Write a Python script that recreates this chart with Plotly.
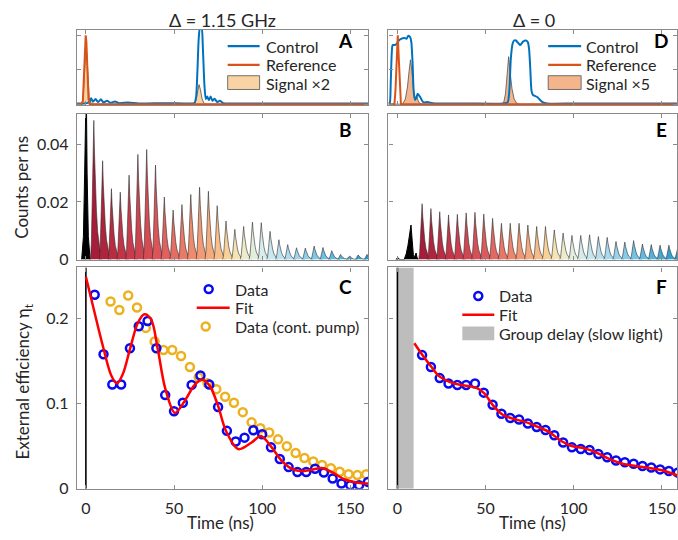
import numpy as np
import plotly.graph_objects as go

W, H = 678, 540

# ---------------- Panel A (Δ = 1.15 GHz): input / output pulses, a.u. ----------------
A_CTRL_T = [-5, -1, 0.5, 2, 3, 4, 5.5, 7, 8.5, 10,
            12, 14, 16.5, 19, 24, 30, 45, 58, 61.5, 62.5,
            63.3, 64.0, 64.8, 65.6, 66.4, 67.2, 68.0, 68.8, 69.8, 70.8,
            71.8, 73.0, 74.5, 76.0, 78.0, 82, 95, 120, 161]
A_CTRL_V = [0.02, 0.02, 0.03, 0.06, 0.17, 0.07, 0.15, 0.06, 0.14, 0.05,
            0.10, 0.04, 0.08, 0.03, 0.05, 0.02, 0.03, 0.02, 0.03, 0.2,
            1.0, 1.9, 2.25, 2.25, 1.6, 0.6, 0.15, 0.22, 0.12, 0.22,
            0.1, 0.16, 0.06, 0.1, 0.03, 0.02, 0.02, 0.02, 0.02]
A_REF_T = [-5, -2.4, -1.7, -1.1, -0.5, -0.1, 0.3, 0.9, 1.5, 2.2, 161]
A_REF_V = [0, 0, 0.1, 0.8, 1.75, 2.0, 1.8, 0.9, 0.15, 0, 0]
A_SIG_T = [-5, -2.4, -1.6, -1.0, -0.4, 0.1, 0.6, 1.2, 1.9, 2.8, 4,
           60, 61.5, 62.5, 63.4, 64.2, 65.0, 65.8, 66.8, 68, 161]
A_SIG_V = [0, 0, 0.15, 0.8, 1.5, 1.7, 1.4, 0.7, 0.2, 0.04, 0,
           0, 0.02, 0.12, 0.4, 0.57, 0.42, 0.18, 0.04, 0, 0]

# ---------------- Panel D (Δ = 0) ----------------
D_CTRL_T = [-5, -4.3, -3.8, -3.2, -2.7, -1.5, -0.5, 0.8, 2.1, 4,
            5.2, 6.2, 7.2, 7.9, 8.6, 9.2, 10, 10.8, 11.5, 12.3,
            13, 14, 15, 17, 20, 25, 40, 60, 62.5, 63.5,
            64.3, 65.3, 66.2, 67.2, 68.5, 69.7, 71.3, 72.9, 74, 74.7,
            75.4, 76.1, 77, 77.6, 79.5, 81, 82.3, 85, 100, 161]
D_CTRL_V = [0.02, 0.05, 0.6, 1.5, 1.72, 1.72, 1.75, 1.85, 1.9, 1.92,
            1.9, 1.99, 1.95, 1.8, 1.2, 0.4, 0.12, 0.2, 0.3, 0.25,
            0.2, 0.1, 0.05, 0.06, 0.03, 0.02, 0.02, 0.02, 0.05, 0.4,
            1.3, 1.75, 1.85, 1.85, 1.78, 1.72, 1.82, 1.85, 1.8, 1.6,
            1.0, 0.38, 0.26, 0.25, 0.2, 0.12, 0.06, 0.02, 0.02, 0.02]
D_REF_T = [-5, -1.7, -1.1, -0.5, 0.2, 0.8, 1.4, 2.0, 161]
D_REF_V = [0, 0, 0.4, 1.4, 2.0, 1.3, 0.4, 0, 0]
D_SIG_T = [-5, 3, 4.5, 5.7, 6.6, 7.4, 8.2, 9.0, 9.7, 10.3, 10.9, 11.6, 12.5, 14,
           59, 60.3, 61.3, 62.3, 63.1, 64, 65, 66.2, 67.5, 69, 161]
D_SIG_V = [0, 0, 0.15, 0.5, 0.95, 1.29, 0.95, 0.45, 0.15, 0.12, 0.25, 0.12, 0.03, 0,
           0, 0.05, 0.3, 0.9, 1.38, 0.9, 0.45, 0.15, 0.04, 0, 0]

# ---------------- Panel B: retrieved pulses (counts per ns) ----------------
B_BLACK_T = [-2.4, -1.4, -0.7, -0.2, 0.2, 0.7, 1.4, 2.4]
B_BLACK_V = [0, 0.008, 0.03, 0.062, 0.062, 0.03, 0.008, 0]
B_PEAK_T = [4.5, 9.5, 14.5, 19.5, 24.5, 29.5, 34.5, 39.5, 44.5, 49.5,
            54.5, 59.5, 64.5, 69.5, 74.5, 79.5, 84.5, 89.5, 94.5, 99.5,
            104.5, 109.5, 114.5, 119.5, 124.5, 129.5, 134.5, 139.5, 144.5, 149.5,
            154.5, 159.5]
B_PEAK_V = [0.0483, 0.0343, 0.0246, 0.0234, 0.0293, 0.0365, 0.0382, 0.0328, 0.0217, 0.0172,
            0.0191, 0.0226, 0.0251, 0.0237, 0.0187, 0.0134, 0.0105, 0.0115, 0.0130, 0.0128,
            0.0098, 0.0069, 0.0052, 0.0041, 0.0040, 0.0047, 0.0042, 0.0031, 0.0018, 0.0012,
            0.0016, 0.0018]

# ---------------- Panel E ----------------
E_BLACK_T = [-1.0, -0.3, 0.2, 0.7, 1.4, 3.8, 5.0, 6.0, 6.9, 7.7, 8.4, 9.1, 9.6, 10.1, 10.6, 11.1, 11.7]
E_BLACK_V = [0, 0.0004, 0.0006, 0.0004, 0, 0, 0.002, 0.005, 0.009, 0.012, 0.0065, 0.0012, 0.0008, 0.0015, 0.0023, 0.0008, 0]
E_PEAK_T = [14, 19, 24, 29, 34, 39, 44, 49, 54, 59,
            64, 69, 74, 79, 84, 89, 94, 99, 104, 109,
            114, 119, 124, 129, 134, 139, 144, 149, 154, 159]
E_PEAK_V = [0.0194, 0.0177, 0.0166, 0.0155, 0.0157, 0.0162, 0.0164, 0.0158, 0.0143, 0.0126,
            0.0126, 0.0126, 0.0120, 0.0115, 0.0115, 0.0103, 0.0092, 0.0084, 0.0084, 0.0086,
            0.0080, 0.0077, 0.0063, 0.0061, 0.0066, 0.0054, 0.0052, 0.0050, 0.0050, 0.0040]

# normalised shape of one retrieved pulse (offset in ns, relative height)
PULSE_DT = [-1.9, -1.4, -0.9, -0.45, 0.0, 0.4, 0.9, 1.5, 2.2, 3.0, 3.8, 4.6]
PULSE_V = [0.0, 0.12, 0.42, 0.78, 1.0, 0.76, 0.53, 0.35, 0.2, 0.1, 0.04, 0.0]

# ---------------- Panel C: efficiency, Δ = 1.15 GHz ----------------
C_DATA_T = [5, 10, 15, 20, 25, 30, 35, 40, 45, 50,
            55, 60, 65, 70, 75, 80, 85, 90, 95, 100,
            105, 110, 115, 120, 125, 130, 135, 140, 145, 150,
            155, 160]
C_DATA_V = [0.228, 0.158, 0.1225, 0.1225, 0.165, 0.191, 0.197, 0.165, 0.110, 0.091,
            0.101, 0.122, 0.133, 0.1225, 0.096, 0.068, 0.0555, 0.060, 0.0686, 0.064,
            0.0486, 0.035, 0.0254, 0.0197, 0.0197, 0.0235, 0.019, 0.0119, 0.0061, 0.0042,
            0.0042, 0.008]
C_CONT_T = [14, 19, 24, 29, 34, 39, 44, 49, 54, 59,
            64, 69, 74, 79, 84, 89, 94, 99, 104, 109,
            114, 119, 124, 129, 134, 139, 144, 149, 154, 159]
C_CONT_V = [0.220, 0.210, 0.227, 0.213, 0.189, 0.173, 0.163, 0.163, 0.156, 0.143,
            0.131, 0.124, 0.117, 0.108, 0.101, 0.090, 0.078, 0.071, 0.066, 0.058,
            0.050, 0.042, 0.036, 0.032, 0.028, 0.024, 0.020, 0.017, 0.016, 0.017]
C_FIT_T = [0, 4, 9.6, 14.4, 17.6, 21, 25, 29.5, 33.2, 37,
           40.8, 45, 50.5, 55.9, 61.6, 65.7, 70, 74.8, 79.5, 86.5,
           94, 99.3, 105.4, 111, 116.7, 121.4, 128, 133.7, 139.4, 146.9,
           154.5, 160.5]
C_FIT_V = [0.249, 0.215, 0.168, 0.133, 0.1237, 0.135, 0.164, 0.195, 0.205, 0.199,
           0.164, 0.118, 0.089, 0.1025, 0.1217, 0.128, 0.1217, 0.0986, 0.0678, 0.0466,
           0.0543, 0.062, 0.0486, 0.033, 0.0235, 0.0208, 0.0223, 0.0243, 0.0197, 0.0108,
           0.007, 0.006]

# ---------------- Panel F: efficiency, Δ = 0 ----------------
F_DATA_T = [14, 19, 24, 29, 34, 39, 44, 49, 54, 59,
            64, 69, 74, 79, 84, 89, 94, 99, 104, 109,
            114, 119, 124, 129, 134, 139, 144, 149, 154, 159]
F_DATA_V = [0.157, 0.143, 0.130, 0.1237, 0.1218, 0.1218, 0.1237, 0.1129, 0.0986, 0.0882,
            0.0832, 0.0813, 0.0767, 0.0725, 0.069, 0.0628, 0.0543, 0.0486, 0.0466, 0.0455,
            0.0408, 0.037, 0.0331, 0.0312, 0.0293, 0.0266, 0.025, 0.0227, 0.0208, 0.0189]
F_FIT_T = [9.6, 14.4, 19.1, 23.8, 29.5, 36.1, 41, 44.6, 49.3, 54,
           59.7, 65.3, 72.9, 78.6, 86.1, 92.7, 98.4, 106, 112.6, 120.1,
           127.7, 135.2, 142.8, 150.3, 158.6, 160]
F_FIT_V = [0.171, 0.1565, 0.1437, 0.132, 0.1256, 0.1218, 0.1205, 0.1187, 0.1121, 0.0986,
           0.087, 0.0824, 0.0782, 0.0736, 0.0667, 0.0563, 0.0505, 0.0474, 0.0428, 0.035,
           0.0293, 0.0266, 0.0243, 0.0216, 0.0158, 0.015]
PUMP_T0 = 0.0          # black line: start of retrieval
GROUP_DELAY = 9.2      # ns, slow-light group delay (grey band in F)

for a, b in [(A_CTRL_T, A_CTRL_V), (A_REF_T, A_REF_V), (A_SIG_T, A_SIG_V),
             (D_CTRL_T, D_CTRL_V), (D_REF_T, D_REF_V), (D_SIG_T, D_SIG_V),
             (B_BLACK_T, B_BLACK_V), (B_PEAK_T, B_PEAK_V), (E_BLACK_T, E_BLACK_V),
             (E_PEAK_T, E_PEAK_V), (PULSE_DT, PULSE_V), (C_DATA_T, C_DATA_V),
             (C_CONT_T, C_CONT_V), (C_FIT_T, C_FIT_V), (F_DATA_T, F_DATA_V), (F_FIT_T, F_FIT_V)]:
    assert len(a) == len(b)

# ---------------- styles ----------------
C_CTRL = '#0072BD'
C_REF = '#D95319'
C_SIG_A = '#F9D3A3'
C_SIG_D = '#F4B58D'
C_BLUE = '#0a0af0'
C_ORANGE = '#EDB120'
C_RED = '#ff0000'
AX_COL = '#8a8a8a'
TXT = '#262626'
FONT = 'Lato'

CMAP_STOPS = [0.0, 0.1, 0.22, 0.33, 0.42, 0.48, 0.53, 0.6, 0.7, 0.82, 1.0]
CMAP_COLORS = ['#a51d38', '#c23448', '#da5258', '#eb7d69', '#f5ab7c', '#f8cf96',
               '#f4eabd', '#dcefe8', '#b3def0', '#76c5e6', '#1f9ad0']


def cmap(f):
    rgb = [[int(c[i:i + 2], 16) for i in (1, 3, 5)] for c in CMAP_COLORS]
    v = [np.interp(f, CMAP_STOPS, [c[k] for c in rgb]) for k in range(3)]
    return 'rgb(%d,%d,%d)' % tuple(int(round(x)) for x in v)


# layout geometry (pixels in the 678x540 window)
LEFT = (77, 369)
RIGHT = (389, 678)
ROW_A = (30, 107)
ROW_B = (116, 264)
ROW_C = (272, 497)


def px(p):
    return p / W


def py(p):
    return 1 - p / H


def xd(p):
    return [px(p[0]), min(1.0, px(p[1]))]


def yd(p):
    return [py(p[1]), py(p[0])]


fig = go.Figure()


def add(tr, ax):
    tr.update(xaxis='x' + ax, yaxis='y' + ax, hoverinfo='skip')
    fig.add_trace(tr)


# ---- A ----
add(go.Scatter(x=A_SIG_T, y=A_SIG_V, mode='lines', fill='tozeroy', fillcolor=C_SIG_A,
               line=dict(color='#505050', width=0.8)), '')
add(go.Scatter(x=A_CTRL_T, y=A_CTRL_V, mode='lines', line=dict(color=C_CTRL, width=2, shape='spline', smoothing=0.6)), '')
add(go.Scatter(x=A_REF_T, y=A_REF_V, mode='lines', line=dict(color=C_REF, width=2)), '')
# ---- D ----
add(go.Scatter(x=D_SIG_T, y=D_SIG_V, mode='lines', fill='tozeroy', fillcolor=C_SIG_D,
               line=dict(color='#505050', width=0.8)), '4')
add(go.Scatter(x=D_CTRL_T, y=D_CTRL_V, mode='lines', line=dict(color=C_CTRL, width=2, shape='spline', smoothing=0.6)), '4')
add(go.Scatter(x=D_REF_T, y=D_REF_V, mode='lines', line=dict(color=C_REF, width=2)), '4')


# ---- B / E pulses ----
def pulses(black_t, black_v, peak_t, peak_v, ax):
    add(go.Scatter(x=black_t, y=black_v, mode='lines', fill='tozeroy', fillcolor='#000000',
                   line=dict(color='#000000', width=1)), ax)
    n = len(peak_t)
    for i, (t0, h) in enumerate(zip(peak_t, peak_v)):
        xs = [t0 + d for d in PULSE_DT]
        ys = [h * s for s in PULSE_V]
        add(go.Scatter(x=xs, y=ys, mode='lines', fill='tozeroy', fillcolor=cmap(i / (n - 1)),
                       line=dict(color='rgba(45,45,45,0.85)', width=0.7)), ax)


pulses(B_BLACK_T, B_BLACK_V, B_PEAK_T, B_PEAK_V, '2')
pulses(E_BLACK_T, E_BLACK_V, E_PEAK_T, E_PEAK_V, '5')

# ---- C ----
YMAX_C = 0.26
MK = dict(symbol='circle-open', size=8, line=dict(width=2.5))
add(go.Scatter(x=[PUMP_T0, PUMP_T0], y=[0, YMAX_C], mode='lines', line=dict(color='black', width=1.6)), '3')
add(go.Scatter(x=C_CONT_T, y=C_CONT_V, mode='markers', marker=dict(MK, color=C_ORANGE)), '3')
add(go.Scatter(x=C_DATA_T, y=C_DATA_V, mode='markers', marker=dict(MK, color=C_BLUE)), '3')
add(go.Scatter(x=C_FIT_T, y=C_FIT_V, mode='lines', line=dict(color=C_RED, width=2.5, shape='spline', smoothing=0.9)), '3')

# ---- F ----
add(go.Scatter(x=[PUMP_T0, GROUP_DELAY, GROUP_DELAY, PUMP_T0], y=[0, 0, YMAX_C, YMAX_C], mode='lines',
               fill='toself', fillcolor='#bdbdbd', line=dict(width=0)), '6')
add(go.Scatter(x=[PUMP_T0, PUMP_T0], y=[0, YMAX_C], mode='lines', line=dict(color='black', width=1.6)), '6')
add(go.Scatter(x=F_DATA_T, y=F_DATA_V, mode='markers', marker=dict(MK, color=C_BLUE)), '6')
add(go.Scatter(x=F_FIT_T, y=F_FIT_V, mode='lines', line=dict(color=C_RED, width=2.5, shape='spline', smoothing=0.9)), '6')

# ---------------- axes ----------------
base = dict(showline=True, linecolor=AX_COL, linewidth=1.2, mirror='ticks', ticks='inside',
            ticklen=4, tickwidth=1, tickcolor=AX_COL, showgrid=False, zeroline=False,
            tickfont=dict(size=16, color=TXT, family=FONT))
XT = [0, 50, 100, 150]


def xax(dom, rng, labels, anchor):
    d = dict(base, domain=xd(dom), range=rng, tickmode='array', tickvals=XT,
             showticklabels=labels, anchor=anchor)
    if labels:
        d['ticktext'] = [str(v) for v in XT]
        d['ticklabelstandoff'] = 5
    return d


def yax(dom, rng, vals, texts, anchor):
    d = dict(base, domain=yd(dom), range=rng, tickmode='array', tickvals=vals,
             showticklabels=bool(texts), anchor=anchor)
    if texts:
        d['ticktext'] = texts
        d['ticklabelstandoff'] = 4
    return d


XL = [-5.1, 160.3]
XR = [-5.1, 158.6]
YA = [-0.03, 2.17]
YB = [0, 0.0505]
YC = [0, YMAX_C]
lay = dict(
    xaxis=xax(LEFT, XL, False, 'y'), yaxis=yax(ROW_A, YA, [0, 1, 2], None, 'x'),
    xaxis2=xax(LEFT, XL, False, 'y2'), yaxis2=yax(ROW_B, YB, [0, 0.02, 0.04], ['0', '0.02', '0.04'], 'x2'),
    xaxis3=xax(LEFT, XL, True, 'y3'), yaxis3=yax(ROW_C, YC, [0, 0.1, 0.2], ['0', '0.1', '0.2'], 'x3'),
    xaxis4=xax(RIGHT, XR, False, 'y4'), yaxis4=yax(ROW_A, YA, [0, 1, 2], None, 'x4'),
    xaxis5=xax(RIGHT, XR, False, 'y5'), yaxis5=yax(ROW_B, YB, [0, 0.02, 0.04], None, 'x5'),
    xaxis6=xax(RIGHT, XR, True, 'y6'), yaxis6=yax(ROW_C, YC, [0, 0.1, 0.2], None, 'x6'),
)

# ---------------- text & legends ----------------
ann = []
shapes = []


def text(x, y, s, size=16, bold=False, angle=0, xanchor='center'):
    ann.append(dict(xref='paper', yref='paper', x=px(x), y=py(y), text=('<b>%s</b>' % s) if bold else s,
                    showarrow=False, xanchor=xanchor, yanchor='middle', textangle=angle,
                    font=dict(size=size, color='#000000' if bold else TXT, family=FONT)))


text(223, 20, 'Δ = 1.15 GHz', 18)
text(535, 20, 'Δ = 0', 18)
for lab, x, y in [('A', 346, 41), ('D', 662, 41), ('B', 346, 132), ('E', 662, 132), ('C', 346, 291), ('F', 662, 291)]:
    text(x, y, lab, 19, bold=True)
text(22, 190, 'Counts per ns', 17, angle=-90)
text(24, 388, 'External efficiency η<sub>t</sub>', 17, angle=-90)
text(221, 531, 'Time (ns)', 17)
text(533, 531, 'Time (ns)', 17)


def leg_line(x0, x1, y, color, width=2.2):
    shapes.append(dict(type='line', xref='paper', yref='paper', x0=px(x0), x1=px(x1),
                       y0=py(y), y1=py(y), line=dict(color=color, width=width)))


def leg_rect(x0, x1, y0, y1, fill, line='#505050'):
    shapes.append(dict(type='rect', xref='paper', yref='paper', x0=px(x0), x1=px(x1),
                       y0=py(y1), y1=py(y0), fillcolor=fill,
                       line=dict(color=line if line else fill, width=0.8 if line else 0)))


def leg_circle(cx, cy, color, r=4.0):
    shapes.append(dict(type='circle', xref='paper', yref='paper', x0=px(cx - r), x1=px(cx + r),
                       y0=py(cy + r), y1=py(cy - r), line=dict(color=color, width=2.5)))


# legend A
leg_line(228, 260, 47, C_CTRL)
leg_line(228, 260, 66, C_REF)
leg_rect(228, 260, 77, 91, C_SIG_A)
text(264, 47, 'Control', 16, xanchor='left')
text(264, 66, 'Reference', 16, xanchor='left')
text(264, 85, 'Signal ×2', 16, xanchor='left')
# legend D
leg_line(549, 582, 47, C_CTRL)
leg_line(549, 582, 66, C_REF)
leg_rect(549, 582, 77, 91, C_SIG_D)
text(585, 47, 'Control', 16, xanchor='left')
text(585, 66, 'Reference', 16, xanchor='left')
text(585, 85, 'Signal ×5', 16, xanchor='left')
# legend C
leg_circle(209, 294, C_BLUE)
leg_line(197, 230, 313, C_RED, 2.5)
leg_circle(206, 332, C_ORANGE)
text(233, 294, 'Data', 16, xanchor='left')
text(233, 313, 'Fit', 16, xanchor='left')
text(233, 332, 'Data (cont. pump)', 16, xanchor='left')
# legend F
leg_circle(479, 301, C_BLUE)
leg_line(463, 495, 320, C_RED, 2.5)
leg_rect(463, 495, 332, 346, '#bdbdbd', None)
text(498, 301, 'Data', 16, xanchor='left')
text(498, 320, 'Fit', 16, xanchor='left')
text(498, 339, 'Group delay (slow light)', 16, xanchor='left')

fig.update_layout(width=W, height=H, margin=dict(l=0, r=0, t=0, b=0), showlegend=False,
                  paper_bgcolor='white', plot_bgcolor='white', font=dict(family=FONT, color=TXT),
                  annotations=ann, shapes=shapes, **lay)
# pin the 678x540 figure to the window's top-left corner (no page margin, no scrolling)
POST = ("document.body.style.margin='0px';document.body.style.overflow='hidden';"
        "var gd=document.getElementById('{plot_id}');gd.style.position='fixed';"
        "gd.style.left='0px';gd.style.top='0px';")
fig.write_html("out.html", config={'displayModeBar': False}, post_script=POST)
